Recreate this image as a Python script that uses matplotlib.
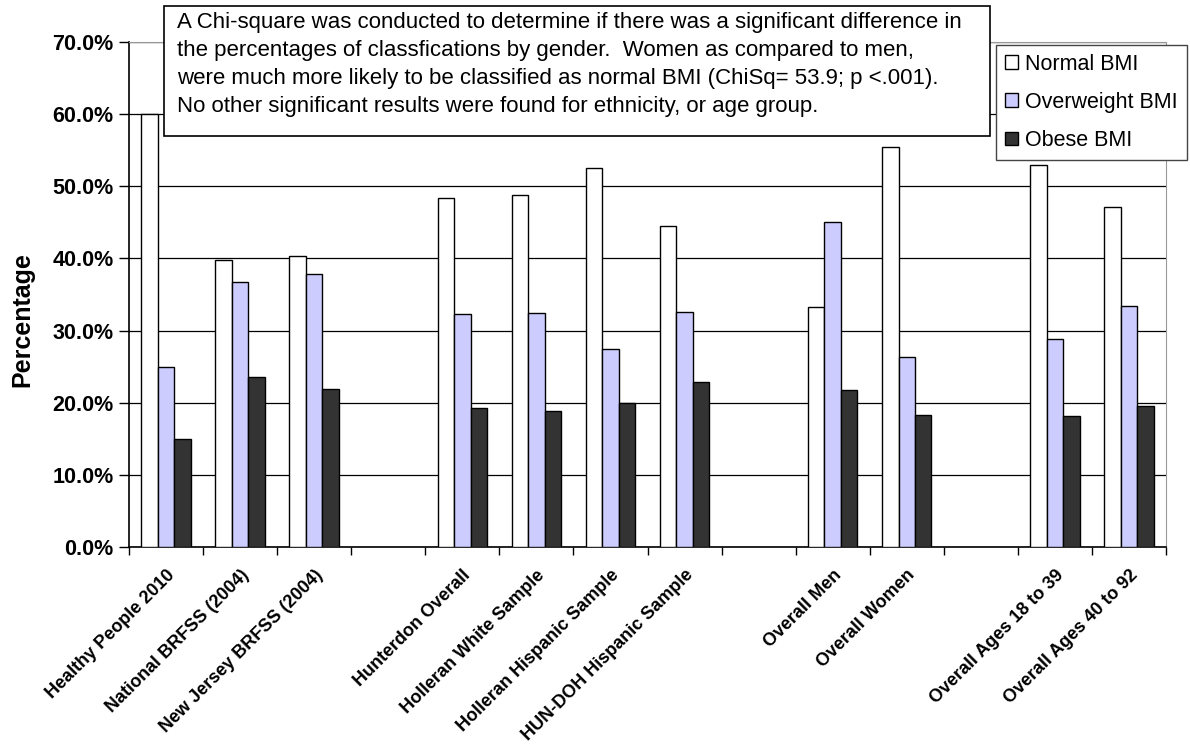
import numpy as np
import matplotlib
matplotlib.use("Agg")
import matplotlib.pyplot as plt
import matplotlib.patches as patches
from matplotlib.ticker import PercentFormatter, FixedLocator

plt.rcParams['font.family'] = ['Liberation Sans', 'DejaVu Sans']

# one slot per category, empty names are spacer slots between groups
categories = ["Healthy People 2010", "National BRFSS (2004)", "New Jersey BRFSS (2004)", "",
              "Hunterdon Overall", "Holleran White Sample", "Holleran Hispanic Sample",
              "HUN-DOH Hispanic Sample", "", "Overall Men", "Overall Women", "",
              "Overall Ages 18 to 39", "Overall Ages 40 to 92"]
normal_bmi = [60.0, 39.8, 40.3, None, 48.4, 48.8, 52.5, 44.5, None, 33.2, 55.4, None, 52.9, 47.1]
overweight_bmi = [25.0, 36.7, 37.8, None, 32.3, 32.5, 27.5, 32.6, None, 45.1, 26.3, None, 28.9, 33.4]
obese_bmi = [15.0, 23.5, 21.9, None, 19.2, 18.8, 20.0, 22.9, None, 21.7, 18.3, None, 18.2, 19.5]

series_names = ["Normal BMI", "Overweight BMI", "Obese BMI"]
series_colors = ["#FFFFFF", "#CCCCFF", "#333333"]

note = ("A Chi-square was conducted to determine if there was a significant difference in\n"
        "the percentages of classfications by gender.  Women as compared to men,\n"
        "were much more likely to be classified as normal BMI (ChiSq= 53.9; p <.001).\n"
        "No other significant results were found for ethnicity, or age group.")

W, H = 1190, 746
fig = plt.figure(figsize=(W / 100, H / 100), dpi=100)
ax = fig.add_axes([129 / W, 1 - 547 / H, (1166 - 129) / W, (547 - 42) / H])

n = len(categories)
x = np.arange(n) + 0.5
bar_w = 1 / 4.5
for k, (vals, name, col) in enumerate(zip([normal_bmi, overweight_bmi, obese_bmi], series_names, series_colors)):
    v = np.array([np.nan if val is None else val for val in vals], dtype=float)
    ax.bar(x + (k - 1) * bar_w, v, bar_w, color=col, edgecolor="black", linewidth=1.0,
           label=name, zorder=3)

ax.set_xlim(0, n)
ax.set_ylim(0, 70)
ax.yaxis.set_major_locator(FixedLocator(np.arange(0, 71, 10)))
ax.yaxis.set_major_formatter(PercentFormatter(xmax=100, decimals=1))
ax.grid(axis="y", color="black", linewidth=0.9, zorder=0)

# boundary ticks between slots, labels at slot centres
ax.set_xticks(np.arange(0, n + 1))
ax.set_xticklabels([])
ax.set_xticks(x, minor=True)
ax.set_xticklabels(categories, minor=True, rotation=45, ha="right", rotation_mode="anchor",
                   fontsize=13, fontweight="bold")
ax.tick_params(axis="x", which="major", direction="out", length=6, width=1)
ax.tick_params(axis="x", which="minor", length=0, pad=14)
ax.tick_params(axis="y", direction="out", length=7, width=1, labelsize=15.5, pad=4)
for lbl in ax.get_yticklabels():
    lbl.set_fontweight("bold")

for side in ["top", "right"]:
    ax.spines[side].set_color("#999999")
for side in ["left", "bottom"]:
    ax.spines[side].set_color("black")
    ax.spines[side].set_linewidth(1.2)

ax.set_ylabel("Percentage", fontsize=18, fontweight="bold")
ax.yaxis.set_label_coords(-0.091, 0.45)

# note box over the top of the plot
box = patches.Rectangle((164 / W, 1 - 136 / H), (990 - 164) / W, (136 - 6) / H,
                        transform=fig.transFigure, facecolor="white", edgecolor="black",
                        linewidth=1.2, zorder=5)
fig.patches.append(box)
fig.text(177 / W, 1 - 12 / H, note, fontsize=16, va="top", ha="left",
         linespacing=1.43, zorder=6)

leg = fig.legend(loc="upper left", bbox_to_anchor=(996 / W, 1 - 45 / H), fontsize=15.5,
                 frameon=True, fancybox=False, edgecolor="#444444", framealpha=1,
                 handlelength=0.62, handleheight=0.62, handletextpad=0.35,
                 borderpad=0.4, labelspacing=0.8, borderaxespad=0)
leg.get_frame().set_linewidth(1.0)

fig.savefig("out.png", dpi=100)
